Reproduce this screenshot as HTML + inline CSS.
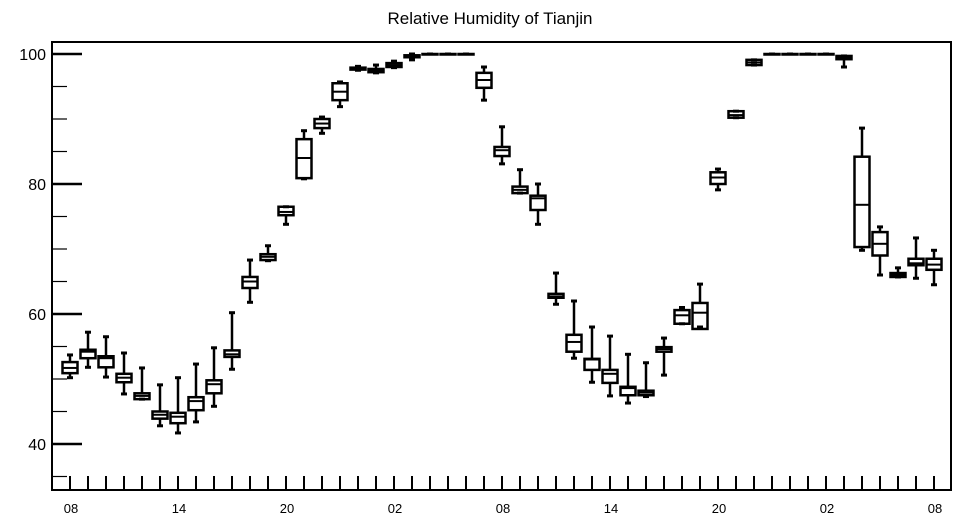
<!DOCTYPE html>
<html><head><meta charset="utf-8"><style>
html,body{margin:0;padding:0;background:#fff;}
svg{display:block;font-family:"Liberation Sans",sans-serif;}
</style></head><body>
<svg id="chart" width="957" height="520" viewBox="0 0 957 520">
<text x="490" y="24" text-anchor="middle" font-size="17">Relative Humidity of Tianjin</text>
<g id="axes"></g>
<g id="boxes"></g>
</svg>
<script>
const hourLabels = ["08","14","20","02","08","14","20","02","08"];
const yTicks = [40, 60, 80, 100];
const lowWhisker = [50.2,51.8,50.3,47.7,46.9,42.8,41.7,43.4,45.8,51.5,61.8,68.2,73.8,80.8,87.8,91.9,97.5,97.1,97.9,99.1,100,100,100,92.9,83.1,78.6,73.8,61.5,53.2,49.5,47.4,46.3,47.3,50.6,58.5,58,79.1,90.2,98.3,100,100,100,100,98,69.8,66,65.7,65.5,64.5];
const q1 = [50.9,53.2,51.8,49.5,46.9,43.9,43.2,45.2,47.8,53.4,64,68.3,75.2,80.9,88.6,92.9,97.6,97.2,98,99.5,100,100,100,94.8,84.3,78.6,76,62.5,54.2,51.4,49.4,47.5,47.5,54.2,58.5,57.7,80,90.2,98.3,100,100,100,100,99.2,70.3,69,65.7,67.5,66.8];
const medians = [51.7,54.2,53.2,50.2,47.4,44.5,44.2,46.6,49.2,53.8,65,68.8,75.7,84,89.3,94.2,97.8,97.5,98.3,99.7,100,100,100,96,85.2,79.1,77.8,62.7,55.7,53,50.8,48.6,47.9,54.6,59.8,60.2,81,90.6,98.7,100,100,100,100,99.4,76.8,70.8,66,67.8,67.6];
const q3 = [52.6,54.5,53.5,50.8,47.8,45,44.8,47.2,49.8,54.4,65.7,69.2,76.5,86.9,90,95.5,97.9,97.7,98.6,99.8,100,100,100,97.1,85.7,79.6,78.2,63.1,56.8,53.1,51.4,48.8,48.2,54.9,60.6,61.7,81.8,91.2,99.1,100,100,100,100,99.7,84.2,72.6,66.3,68.5,68.5];
const highWhisker = [53.7,57.2,56.5,54,51.7,49.1,50.2,52.3,54.8,60.2,68.3,70.5,76.5,88.2,90.3,95.7,98.1,98.3,98.9,100,100,100,100,98,88.8,82.2,80,66.3,62,58,56.6,53.8,52.5,56.3,61,64.6,82.3,91.2,99.1,100,100,100,100,99.7,88.6,73.4,67.1,71.7,69.8];

const L=52,R=951,T=42,B=490;
const NS="http://www.w3.org/2000/svg";
function yScale(v){return 54+(100-v)*6.5;}
function xScale(i){return 70+i*18;}
function mk(parent,tag,attrs){const e=document.createElementNS(NS,tag);for(const k in attrs)e.setAttribute(k,attrs[k]);parent.appendChild(e);return e;}
const axes=document.getElementById('axes');
const boxes=document.getElementById('boxes');

let f=mk(axes,'rect',{x:L,y:T,width:R-L,height:B-T,fill:'none',stroke:'#000','stroke-width':2});



// y ticks: minor every 5, major every 20
for(let v=35;v<=100;v+=5){
  const major=yTicks.indexOf(v)>=0;
  const y=yScale(v);
  let t=mk(axes,'line',{x1:L,x2:L+(major?30:15),y1:y,y2:y,stroke:'#000','stroke-width':major?2.5:1.2});
  
  
  if(major){
    let tx=mk(axes,'text',{x:L-6,y:y+6,'text-anchor':'end','font-size':16});
    tx.textContent=String(v);
    
    
  }
}
// x ticks at each hour
const n=medians.length;
for(let i=0;i<n;i++){
  const x=xScale(i);
  let t=mk(axes,'line',{x1:x,x2:x,y1:B,y2:B-14,stroke:'#000','stroke-width':2});
  
  
}
hourLabels.forEach((lab,k)=>{
  let tx=mk(axes,'text',{x:xScale(k*6)+1,y:513,'text-anchor':'middle','font-size':13});
  tx.textContent=lab;
  
  
});

// boxes
for(let i=0;i<n;i++){
  const x=xScale(i),w=15;
  const g=mk(boxes,'g',{stroke:'#000','stroke-width':2.5,fill:'none'});
  
  
  const yl=yScale(lowWhisker[i]),y1=yScale(q1[i]),ym=yScale(medians[i]),y3=yScale(q3[i]),yh=yScale(highWhisker[i]);
  mk(g,'line',{x1:x,x2:x,y1:yh,y2:y3});
  mk(g,'line',{x1:x,x2:x,y1:y1,y2:yl});
  mk(g,'line',{x1:x-3,x2:x+3,y1:yh,y2:yh,'stroke-width':3});
  mk(g,'line',{x1:x-3,x2:x+3,y1:yl,y2:yl,'stroke-width':3});
  mk(g,'rect',{x:x-w/2,y:y3,width:w,height:Math.max(y1-y3,0.5)});
  mk(g,'line',{x1:x-w/2,x2:x+w/2,y1:ym,y2:ym,'stroke-width':2});
}
</script>
</body></html>
